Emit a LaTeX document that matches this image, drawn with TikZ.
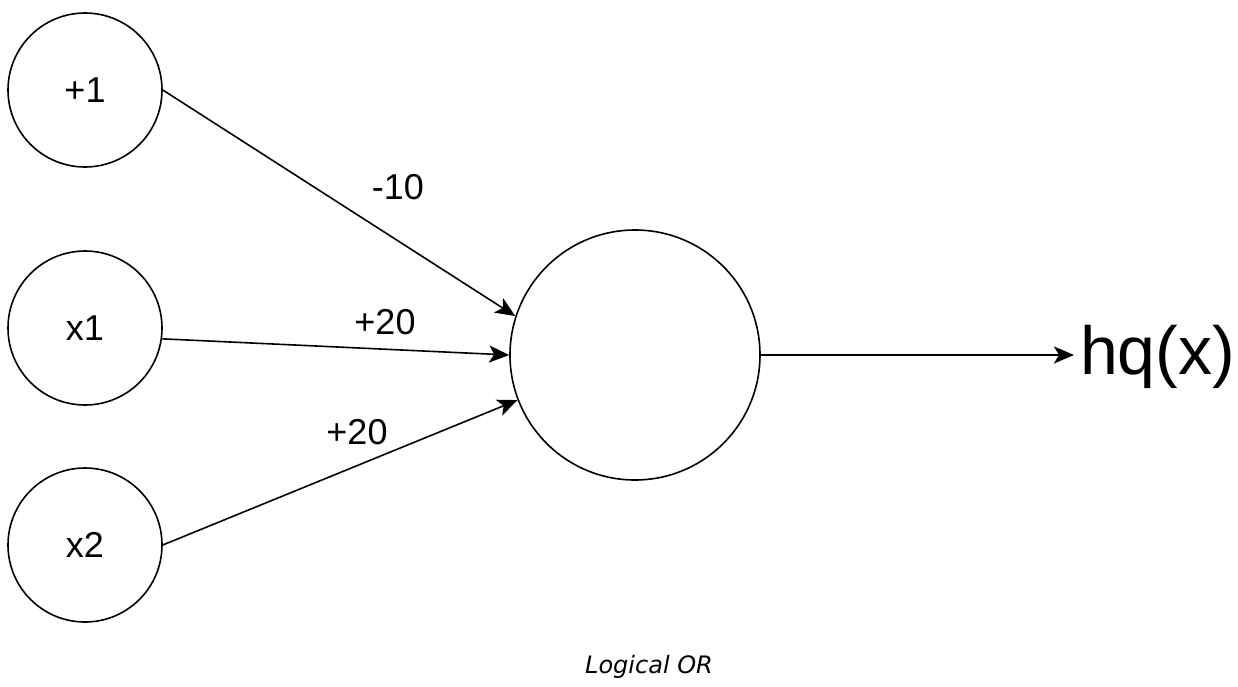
\documentclass[tikz,border=0pt]{standalone}
\usepackage{fontspec}
\setmainfont{Liberation Sans}
\newfontfamily\capfont{DejaVu Sans}
\usetikzlibrary{arrows.meta}
\begin{document}
\begin{tikzpicture}[x=0.5pt,y=-0.5pt,
  neuron/.style={circle,draw,line width=0.8pt,inner sep=0pt},
  conn/.style={line width=0.8pt,-{Stealth[length=10pt,width=8.5pt,inset=2.5pt]}},
  lab/.style={font=\fontsize{18pt}{20pt}\selectfont,inner sep=0pt}]
\useasboundingbox (0,0) rectangle (1238,686);
\node[neuron,minimum size=77pt] (p1) at (85,90) {};
\node[lab] at (85,90) {+1};
\node[neuron,minimum size=77pt] (x1) at (85,328) {};
\node[lab] at (85,328) {x1};
\node[neuron,minimum size=77pt] (x2) at (85,545) {};
\node[lab] at (85,545) {x2};
\node[neuron,minimum size=125pt] (h) at (635,355) {};
\node[inner sep=0pt,outer sep=3pt,font=\fontsize{34pt}{36pt}\selectfont,anchor=west] (out) at (1074,357) {hq(x)};
\draw[conn] (p1.east) -- (h.162);
\draw[conn] (x1.-8) -- (h.west);
\draw[conn] (x2.east) -- (h.201);
\draw[conn] (h.east) -- (h.east -| out.west);
\node[lab] (w0) at (398,187) {-10};
\node[lab] (w1) at (385,322) {+20};
\node[lab] (w2) at (357,432) {+20};
\node[font=\capfont\itshape\fontsize{12pt}{14pt}\selectfont] (cap) at (649,667) {Logical OR};
\end{tikzpicture}
\end{document}
